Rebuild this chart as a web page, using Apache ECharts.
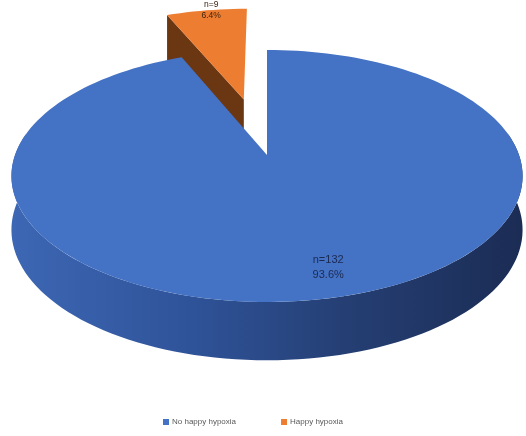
<!DOCTYPE html>
<html>
<head>
<meta charset="utf-8">
<script src="https://cdn.jsdelivr.net/npm/echarts@6/dist/echarts.min.js"></script>
<style>html,body{margin:0;padding:0;background:#fff}#c{width:526px;height:436px}</style>
</head>
<body>
<div id="c"></div>
<script>
const categories = ['No happy hypoxia', 'Happy hypoxia'];
const counts = [132, 9];
const percentLabels = ['93.6%', '6.4%'];

const topColors = ['#4472c4', '#ed7d31'];
const sideColors = ['#2f539a', '#6b3712'];
const labelColors = ['#1c2a52', '#3f240e'];
const labelSizes = [11, 8.5];
const labelLineHeights = [15, 11];
const explode = [0, 0.5];
const labelRadius = [0.8, 0.95];
const labelShift = [[15, 2], [3, -4]];

const geo = { cx: 267, cy: 155, rx: 252, ry: 122.5, k: 0.1667, h: 53 };
const total = counts.reduce((a, b) => a + b, 0);

function proj(phiDeg, r, z, off) {
  const p = phiDeg * Math.PI / 180;
  const X = r * Math.sin(p) + off[0];
  const Y = -r * Math.cos(p) + off[1];
  const s = 1 / (1 - geo.k * Y);
  return [geo.cx + geo.rx * X * s, geo.cy + geo.ry * Y * s + geo.h * z * (1 + 0.1 * Y)];
}

function makeRender(idx) {
  return function (params, api) {
    const before = counts.slice(0, idx).reduce((a, b) => a + b, 0);
    const value = api.value(0);
    const a0 = before / total * 360;
    const a1 = (before + value) / total * 360;
    const mid = (a0 + a1) / 2;
    const mr = mid * Math.PI / 180;
    const off = [explode[idx] * Math.sin(mr), -explode[idx] * Math.cos(mr)];
    const children = [];
    const steps = Math.max(8, Math.ceil((a1 - a0) / 2));
    const topPts = [proj(0, 0, 0, off)];
    for (let i = 0; i <= steps; i++) topPts.push(proj(a0 + (a1 - a0) * i / steps, 1, 0, off));
    const w0 = Math.max(a0, 80), w1 = Math.min(a1, 280);
    if (w1 > w0) {
      const wt = [], wb = [];
      const ws = Math.ceil((w1 - w0) / 2);
      for (let i = 0; i <= ws; i++) {
        const a = w0 + (w1 - w0) * i / ws;
        wt.push(proj(a, 1, 0, off));
        wb.push(proj(a, 1, 1, off));
      }
      children.push({
        type: 'polygon',
        shape: { points: wt.concat(wb.reverse()) },
        style: {
          fill: new echarts.graphic.LinearGradient(0, 0, 1, 0, [
            { offset: 0, color: '#3d67b4' },
            { offset: 0.35, color: '#2f5399' },
            { offset: 0.65, color: '#253f74' },
            { offset: 1, color: '#1b2c54' }
          ])
        }
      });
    }
    if (idx === 1) {
      const face = [proj(0, 0, 0, off), proj(a0, 1, 0, off), proj(a0, 1, 1, off), proj(0, 0, 1, off)];
      children.push({ type: 'polygon', shape: { points: face }, style: { fill: sideColors[idx] } });
    }
    children.push({ type: 'polygon', shape: { points: topPts }, style: { fill: topColors[idx] } });
    const lp = proj(mid, labelRadius[idx], 0, off);
    children.push({
      type: 'text',
      style: {
        text: 'n=' + value + '\n' + percentLabels[idx],
        x: lp[0] + labelShift[idx][0], y: lp[1] + labelShift[idx][1],
        align: 'center', verticalAlign: 'middle',
        textAlign: 'center', textVerticalAlign: 'middle',
        fill: labelColors[idx],
        fontSize: labelSizes[idx], fontFamily: 'Liberation Sans, Arial, sans-serif',
        lineHeight: labelLineHeights[idx]
      }
    });
    return { type: 'group', children: children };
  };
}

const chart = echarts.init(document.getElementById('c'), null, { renderer: 'canvas' });
chart.setOption({
  animation: false,
  backgroundColor: '#ffffff',
  legend: {
    data: categories,
    top: 413,
    left: 158,
    icon: 'rect',
    itemWidth: 6,
    itemHeight: 6,
    itemGap: 45,
    textStyle: { color: '#595959', fontSize: 8, padding: [0, 0, 0, -2], fontFamily: 'Liberation Sans, Arial, sans-serif' }
  },
  series: categories.map((name, i) => ({
    type: 'custom',
    name: name,
    coordinateSystem: 'none',
    z: i === 0 ? 3 : 2,
    itemStyle: { color: topColors[i] },
    renderItem: makeRender(i),
    data: [[counts[i]]]
  }))
});
</script>
</body>
</html>
